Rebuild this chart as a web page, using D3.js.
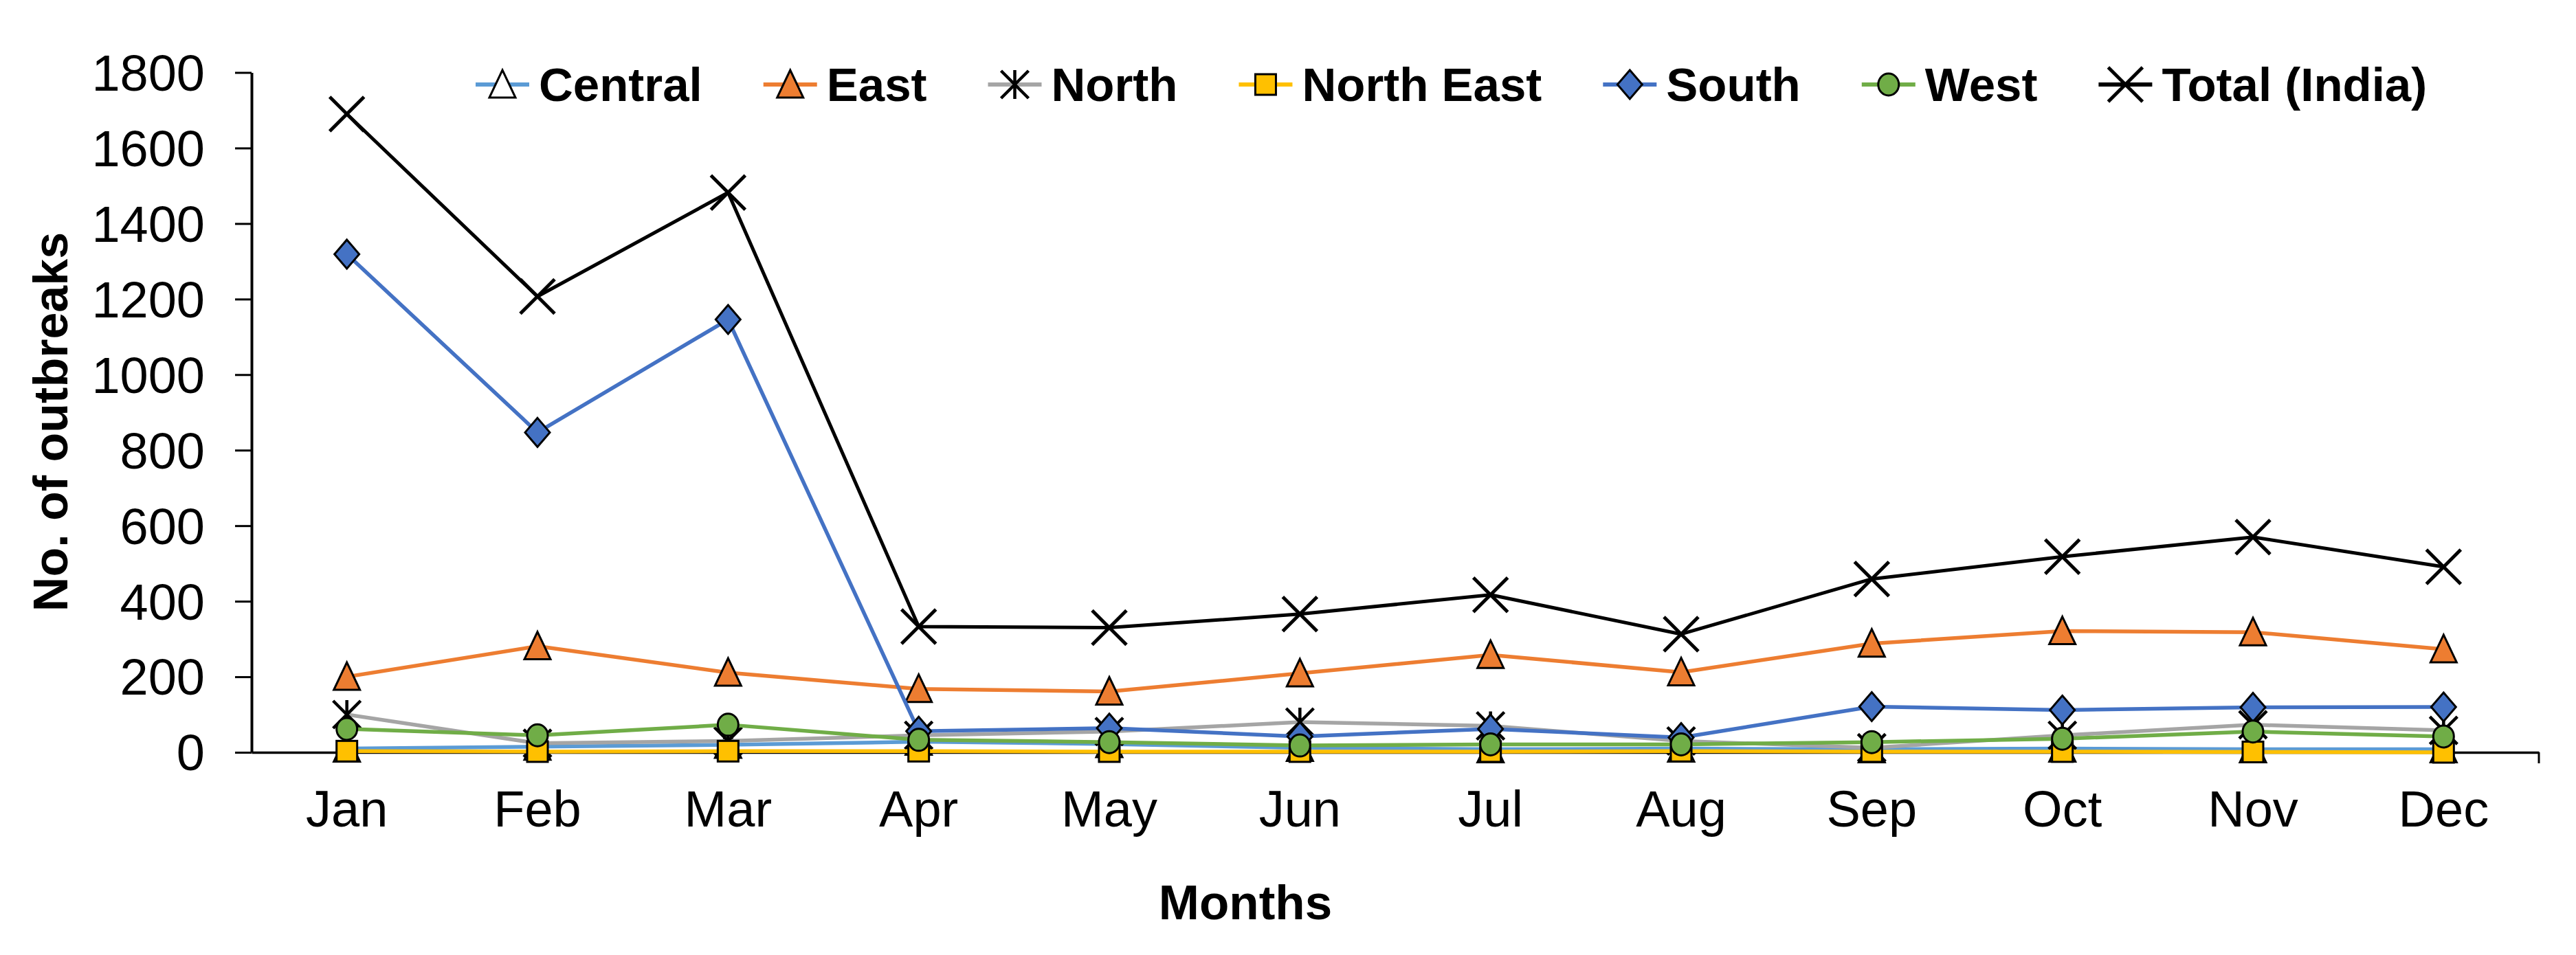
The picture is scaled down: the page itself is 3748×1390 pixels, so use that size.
<!DOCTYPE html>
<html>
<head>
<meta charset="utf-8">
<script src="https://cdn.jsdelivr.net/npm/d3@7"></script>
<style>
  html, body { margin: 0; padding: 0; background: #fff; }
  svg { display: block; font-family: "Liberation Sans", Arial, sans-serif; }
</style>
</head>
<body>
<svg id="chart" width="3748" height="1390"></svg>
<script>
// ---- data ----
const months = ["Jan","Feb","Mar","Apr","May","Jun","Jul","Aug","Sep","Oct","Nov","Dec"];
const yTicks = [0, 200, 400, 600, 800, 1000, 1200, 1400, 1600, 1800];
const central   = [10, 15, 20, 28, 22, 12, 8, 10, 8, 10, 8, 8];
const east      = [200, 281, 211, 168, 161, 209, 258, 212, 288, 321, 318, 273];
const north     = [100, 24, 30, 45, 55, 80, 70, 30, 12, 45, 73, 58];
const northEast = [3, 2, 3, 3, 2, 2, 2, 3, 2, 2, 1, 0];
const south     = [1319, 847, 1146, 56, 64, 42, 62, 39, 121, 112, 119, 120];
const west      = [62, 45, 73, 33, 27, 18, 21, 21, 27, 36, 55, 42];
const total     = [1690, 1207, 1482, 333, 330, 366, 417, 313, 459, 518, 570, 491];
const seriesNames = ["Central", "East", "North", "North East", "South", "West", "Total (India)"];

(function () {
const seriesValues = [central, east, north, northEast, south, west, total];
const styles = [
  {color: "#5B9BD5", marker: "triOpen"},
  {color: "#ED7D31", marker: "tri", fill: "#ED7D31"},
  {color: "#A5A5A5", marker: "star"},
  {color: "#FFC000", marker: "square", fill: "#FFC000"},
  {color: "#4472C4", marker: "diamond", fill: "#4472C4"},
  {color: "#70AD47", marker: "circle", fill: "#70AD47"},
  {color: "#000000", marker: "x"}
];
const series = seriesNames.map((n, i) => Object.assign({name: n, values: seriesValues[i]}, styles[i]));

const svg = d3.select("#chart");
const pLeft = 366, pRight = 3694, pTop = 105.5, pBottom = 1095;

const x = d3.scaleBand().domain(months).range([pLeft, pRight]).paddingInner(0).paddingOuter(0);
const y = d3.scaleLinear().domain([0, 1800]).range([pBottom, pTop]);
const cx = m => x(m) + x.bandwidth() / 2;

// ---- axes ----
const yAxis = d3.axisLeft(y).tickValues(yTicks).tickSize(24).tickSizeOuter(0).tickPadding(44).tickFormat(d3.format("d"));
const gy = svg.append("g").attr("transform", `translate(${pLeft},0)`).call(yAxis);
gy.select(".domain").attr("stroke", "#000").attr("stroke-width", 4);
gy.selectAll(".tick line").attr("stroke", "#000").attr("stroke-width", 3);
gy.selectAll(".tick text").attr("font-size", 74).attr("fill", "#000")
  .attr("font-family", "'Liberation Sans', Arial, sans-serif").attr("dy", "0.35em");

const xAxis = d3.axisBottom(x).tickSize(0).tickSizeOuter(0).tickPadding(0);
const gx = svg.append("g").attr("transform", `translate(0,${pBottom})`).call(xAxis);
gx.select(".domain").attr("stroke", "#000").attr("stroke-width", 3.5);
gx.selectAll(".tick text").attr("font-size", 74).attr("fill", "#000")
  .attr("font-family", "'Liberation Sans', Arial, sans-serif")
  .attr("y", 108).attr("dy", 0);
// right end tick
svg.append("line").attr("x1", pRight).attr("x2", pRight).attr("y1", pBottom).attr("y2", pBottom + 16)
  .attr("stroke", "#000").attr("stroke-width", 3);

// ---- axis titles ----
svg.append("text").attr("x", 1812).attr("y", 1338).attr("text-anchor", "middle")
  .attr("font-size", 71).attr("font-weight", "bold").text("Months");
svg.append("text").attr("transform", `translate(98,614) rotate(-90)`).attr("text-anchor", "middle")
  .attr("font-size", 70).attr("font-weight", "bold").text("No. of outbreaks");

// ---- markers ----
function drawMarker(g, type, color, fill) {
  const sw = 3;
  if (type === "tri" || type === "triOpen") {
    g.append("path").attr("d", "M0,-21 L19,19 L-19,19 Z")
      .attr("fill", type === "tri" ? fill : "#fff").attr("stroke", "#000").attr("stroke-width", sw);
  } else if (type === "diamond") {
    g.append("path").attr("d", "M0,-21 L18,0 L0,21 L-18,0 Z")
      .attr("fill", fill).attr("stroke", "#000").attr("stroke-width", sw);
  } else if (type === "square") {
    g.append("rect").attr("x", -15).attr("y", -15).attr("width", 30).attr("height", 30)
      .attr("fill", fill).attr("stroke", "#000").attr("stroke-width", sw);
  } else if (type === "circle") {
    g.append("ellipse").attr("rx", 15).attr("ry", 16)
      .attr("fill", fill).attr("stroke", "#000").attr("stroke-width", sw);
  } else if (type === "star") {
    g.append("path").attr("d", "M-20,-20 L20,20 M20,-20 L-20,20 M0,-21 L0,21")
      .attr("fill", "none").attr("stroke", "#000").attr("stroke-width", 4.5);
  } else if (type === "x") {
    g.append("path").attr("d", "M-25,-25 L25,25 M25,-25 L-25,25")
      .attr("fill", "none").attr("stroke", "#000").attr("stroke-width", 5);
  }
}

// ---- series ----
const line = d3.line().x((d, i) => cx(months[i])).y(d => y(d));
series.forEach(s => {
  const g = svg.append("g");
  g.append("path").attr("d", line(s.values)).attr("fill", "none")
    .attr("stroke", s.color).attr("stroke-width", s.marker === "x" ? 5 : 5.5).attr("stroke-linejoin", "round");
  s.values.forEach((v, i) => {
    const mg = g.append("g").attr("transform", `translate(${cx(months[i])},${y(v)})`);
    drawMarker(mg, s.marker, s.color, s.fill);
  });
});

// ---- legend ----
const legend = svg.append("g");
let lx = 692;
const ly = 123;
series.forEach(s => {
  const g = legend.append("g");
  g.append("line").attr("x1", lx).attr("x2", lx + 78).attr("y1", ly).attr("y2", ly)
    .attr("stroke", s.color).attr("stroke-width", 6);
  const mg = g.append("g").attr("transform", `translate(${lx + 39},${ly})`);
  drawMarker(mg, s.marker, s.color, s.fill);
  const t = g.append("text").attr("x", lx + 92).attr("y", 147)
    .attr("font-size", 69).attr("font-weight", "bold").attr("fill", "#000").text(s.name);
  const w = t.node().getComputedTextLength();
  lx = lx + 92 + w + 89;
});
})();
</script>
</body>
</html>
